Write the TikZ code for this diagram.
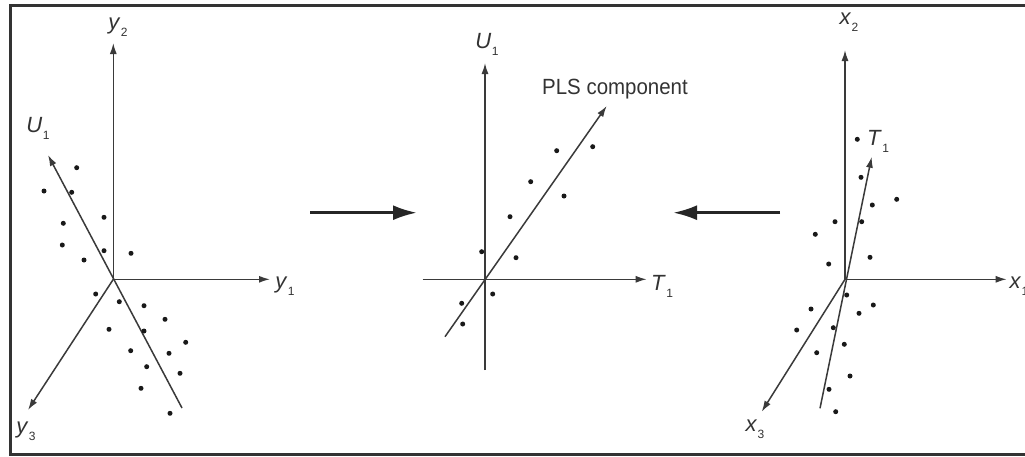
\documentclass[tikz,border=0pt]{standalone}
\usepackage{fontspec}
\setmainfont{Liberation Sans}
\usetikzlibrary{arrows.meta}
\newcommand{\axl}[2]{\textit{#1}\kern0.5pt\raisebox{-7pt}{\fontsize{12}{12}\selectfont #2}}
\definecolor{axcol}{HTML}{3A3A3A}
\tikzset{
  axis/.style={draw=axcol, line width=1.5pt, -{Latex[length=11pt,width=7pt]}},
  bigarrow/.style={draw=black!85, line width=3pt, -{Latex[length=24pt,width=15pt]}},
  lab/.style={inner sep=0pt, text=black!80, font=\fontsize{22}{24}\selectfont},
  dot/.style={fill=black!90},
}
\begin{document}
\begin{tikzpicture}[x=1pt,y=-1pt]
\useasboundingbox (0,0) rectangle (1025,456);
\fill[white] (0,0) rectangle (1025,456);
\draw[line width=3pt, draw=black!80] (10,5.5) rectangle (1040,454.5);

% ---------- left panel ----------
\coordinate (oL) at (113.3,279.3);
\coordinate (y2t) at (113.3,43);
\coordinate (y1t) at (270,279.3);
\coordinate (y3t) at (28,410);
\coordinate (u1t) at (48,155);
\coordinate (u1b) at (182,408);
\draw[axis] (oL) -- (y2t);
\draw[axis] (oL) -- (y1t);
\draw[axis] (oL) -- (y3t);
\draw[axis] (u1b) -- (u1t);
\node[lab] (ly2) at (118,27) {\axl{y}{2}};
\node[lab] (ly1) at (285,286) {\axl{y}{1}};
\node[lab] (ly3) at (26,431) {\axl{y}{3}};
\node[lab] (lu1L) at (38,128) {\axl{U}{1}};
\foreach \p in {(76.7,167.7),(44,191),(71.7,192.3),(104,217.3),(63.3,223.3),(62.3,245),
  (104,250.7),(131,253.3),(84,260),(95.7,294),(119.3,301.7),(144,305.7),(165,319.3),
  (109,329.3),(144,331),(185.7,342.3),(130.7,350.7),(169,353.3),(146.7,366.7),
  (180,373.3),(141,388.3),(170,413.3)}
  \fill[dot] \p circle (2.5pt);

% ---------- big arrows ----------
\coordinate (a1s) at (310,212.7);
\coordinate (a1e) at (417,212.7);
\coordinate (a2s) at (780,212.7);
\coordinate (a2e) at (673,212.7);
\draw[bigarrow] (a1s) -- (a1e);
\draw[bigarrow] (a2s) -- (a2e);

% ---------- middle panel ----------
\coordinate (oM) at (485,279.3);
\coordinate (mUt) at (485,63);
\coordinate (mUb) at (485,370);
\coordinate (mTt) at (646.7,279.3);
\coordinate (mTl) at (422.7,279.3);
\coordinate (pTt) at (606.7,106);
\coordinate (pTb) at (445,336.7);
\draw[axis] (mUb) -- (mUt);
\draw[axis] (mTl) -- (mTt);
\draw[axis] (pTb) -- (pTt);
\node[lab] (lu1M) at (487,44) {\axl{U}{1}};
\node[lab] (lt1M) at (662,286) {\axl{T}{1}};
\node[lab, anchor=west] (lpls) at (542,89) {\scalebox{0.93}[1]{PLS component}};
\foreach \p in {(556.7,150.7),(592.7,146.7),(530.7,181.7),(564,196),(510,216.7),
  (481.7,251.7),(516,257.7),(492.7,294),(461.7,303.3),(462.7,324)}
  \fill[dot] \p circle (2.5pt);

% ---------- right panel ----------
\coordinate (oR) at (845,279.3);
\coordinate (x2t) at (845,50);
\coordinate (x1t) at (1006.7,279.3);
\coordinate (x3t) at (761.7,411.7);
\coordinate (t1t) at (871.7,156.7);
\coordinate (t1b) at (820,408.3);
\draw[axis] (oR) -- (x2t);
\draw[axis] (oR) -- (x1t);
\draw[axis] (oR) -- (x3t);
\draw[axis] (t1b) -- (t1t);
\node[lab] (lx2) at (849,22) {\axl{x}{2}};
\node[lab] (lx1) at (1019,286) {\axl{x}{1}};
\node[lab] (lx3) at (755,429) {\axl{x}{3}};
\node[lab] (lt1R) at (878,141) {\axl{T}{1}};
\foreach \p in {(857.3,139.3),(861,177.3),(896.7,199.3),(872.3,205),(835,221.7),
  (861.7,221.7),(815.3,234.3),(828.7,264),(870,257.3),(811,309),(846.7,295),
  (873.3,305),(859,313.3),(796.7,330),(833.3,327.7),(844.3,344.3),(816.7,352.7),
  (850,376),(829,389.3),(835.7,411.7)}
  \fill[dot] \p circle (2.5pt);
\end{tikzpicture}
\end{document}
